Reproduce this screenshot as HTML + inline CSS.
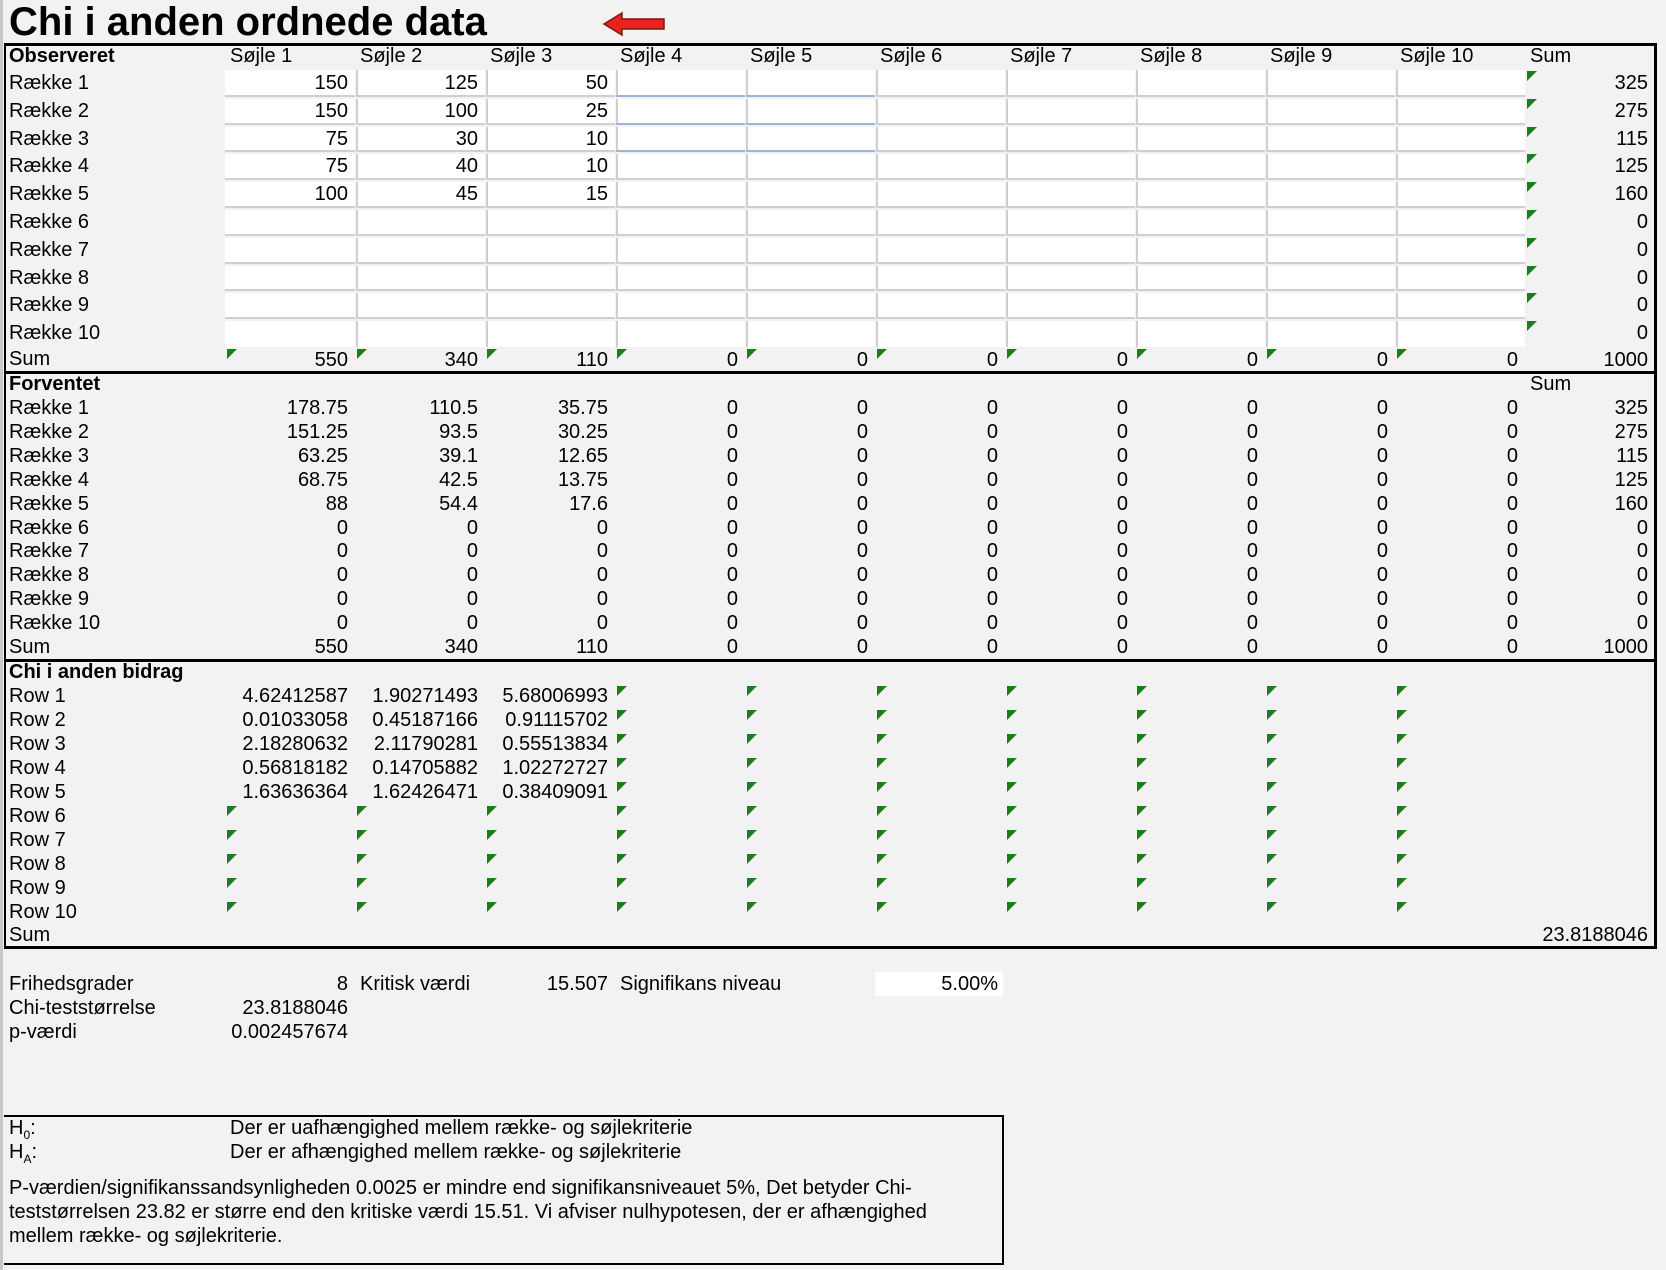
<!DOCTYPE html>
<html><head><meta charset="utf-8">
<style>
body{margin:0;width:1666px;height:1270px;background:#f2f2f2;position:relative;overflow:hidden;font-family:"Liberation Sans",Arial,sans-serif;color:#000}
.t{position:absolute;font-size:20px;line-height:24px;height:24px;white-space:nowrap}
.b{font-weight:bold}
.r{text-align:right}
.cell{position:absolute;background:#fff}
.tri{position:absolute;width:0;height:0;border-top:10px solid #1a7f1a;border-right:10px solid transparent}
.hl{position:absolute;height:3px;background:#000}
</style></head><body>
<div style="position:absolute;left:0;top:0;width:3px;height:1270px;background:#c8c8c8"></div>
<div class="t b" style="left:9px;top:0px;font-size:40px;line-height:44px;height:44px">Chi i anden ordnede data</div>
<svg style="position:absolute;left:600px;top:10px" width="70" height="28" viewBox="0 0 70 28">
<path d="M4 14 L22 3 L22 9 L64 9 L64 19 L22 19 L22 25 Z" fill="#e8231c" stroke="#7a1a12" stroke-width="1.5"/>
</svg>
<div id="root"></div>
<script>
const cols=['Søjle 1','Søjle 2','Søjle 3','Søjle 4','Søjle 5','Søjle 6','Søjle 7','Søjle 8','Søjle 9','Søjle 10'];
const obsRow1=[150,125,50];
const obsRow2=[150,100,25];
const obsRow3=[75,30,10];
const obsRow4=[75,40,10];
const obsRow5=[100,45,15];
const rowSums=[325,275,115,125,160,0,0,0,0,0];
const colSums=[550,340,110,0,0,0,0,0,0,0];
const total=1000;
const expRow1=['178.75','110.5','35.75'];
const expRow2=['151.25','93.5','30.25'];
const expRow3=['63.25','39.1','12.65'];
const expRow4=['68.75','42.5','13.75'];
const expRow5=['88','54.4','17.6'];
const chiRow1=['4.62412587','1.90271493','5.68006993'];
const chiRow2=['0.01033058','0.45187166','0.91115702'];
const chiRow3=['2.18280632','2.11790281','0.55513834'];
const chiRow4=['0.56818182','0.14705882','1.02272727'];
const chiRow5=['1.63636364','1.62426471','0.38409091'];
const chiSum='23.8188046';
const obs=[obsRow1,obsRow2,obsRow3,obsRow4,obsRow5];
const exp=[expRow1,expRow2,expRow3,expRow4,expRow5];
const chi=[chiRow1,chiRow2,chiRow3,chiRow4,chiRow5];

const root=document.body;
const C0=225,CW=130;
function colX(i){return C0+i*CW;}
function txt(x,cy,s,opts,name){
  const d=document.createElement('div');
  d.className='t'+(opts&&opts.b?' b':'')+(opts&&opts.r?' r':'');
  if(opts&&opts.r){d.style.left=(x-200)+'px';d.style.width='200px';}else d.style.left=x+'px';
  d.style.top=(cy-12)+'px';
  d.textContent=s;
  
  
  root.appendChild(d);return d;
}
function tri(x,y){
  const d=document.createElement('div');d.className='tri';d.style.left=x+'px';d.style.top=y+'px';
  
  
  root.appendChild(d);
}
function hline(y,x1,x2,name){
  const d=document.createElement('div');d.className='hl';d.style.left=x1+'px';d.style.top=y+'px';d.style.width=(x2-x1)+'px';
  
  
  root.appendChild(d);
}
hline(43,4,1657,'top-border');hline(371,4,1657,'section-divider');hline(659,4,1657,'section-divider');hline(946,4,1657,'section-divider');
const rb=document.createElement('div');rb.style.cssText='position:absolute;left:1654px;top:43px;width:3px;height:906px;background:#000';


root.appendChild(rb);
const lb=document.createElement('div');lb.style.cssText='position:absolute;left:4px;top:43px;width:2px;height:906px;background:#000';


root.appendChild(lb);

const oTop=70,oP=27.8;
txt(9,56,'Observeret',{b:1},'observed-header');
cols.forEach((c,i)=>txt(colX(i)+5,56,c,{},'column-header'));
txt(colX(10)+5,56,'Sum',{},'sum-header');
for(let r=0;r<10;r++){
  for(let c=0;c<10;c++){
    const d=document.createElement('div');d.className='cell';
    d.style.left=(colX(c)+(c?1:0))+'px';d.style.top=(oTop+r*oP+(r?1:0))+'px';
    d.style.width=(CW-(c?1:0))+'px';d.style.height=(oP-(r?1:0)-1)+'px';
    d.style.boxShadow='inset 0 -2px 0 '+((r<3&&(c==3||c==4))?'#9db5d6':'#cfcfcf')+(c>0?', inset 2px 0 0 #cfcfcf':'');
    if(r==9)d.style.boxShadow=c>0?'inset 2px 0 0 #cfcfcf':'none';
    
    
    root.appendChild(d);
  }
}
for(let r=0;r<10;r++){
  const cy=oTop+r*oP+13;
  txt(9,cy,'Række '+(r+1),{},'row-label');
  if(r<5) obs[r].forEach((v,c)=>txt(colX(c+1)-7,cy,String(v),{r:1},'observed-value'));
  tri(colX(10)+2,oTop+r*oP+1);
  txt(colX(11)-7,cy,String(rowSums[r]),{r:1},'row-sum');
}
txt(9,359,'Sum',{},'sum-label');
colSums.forEach((v,c)=>{tri(colX(c)+2,349);txt(colX(c+1)-7,360,String(v),{r:1},'column-sum');});
txt(colX(11)-7,360,String(total),{r:1},'grand-total');

txt(9,384,'Forventet',{b:1},'expected-header');
txt(colX(10)+5,384,'Sum',{},'sum-header');
const eTop=408,eP=23.9;
for(let r=0;r<10;r++){
  const cy=eTop+r*eP;
  txt(9,cy,'Række '+(r+1),{},'row-label');
  for(let c=0;c<10;c++){
    const v=(r<5&&c<3)?exp[r][c]:'0';
    txt(colX(c+1)-7,cy,v,{r:1},'expected-value');
  }
  txt(colX(11)-7,cy,String(rowSums[r]),{r:1},'row-sum');
}
txt(9,eTop+10*eP,'Sum',{},'sum-label');
colSums.forEach((v,c)=>txt(colX(c+1)-7,eTop+10*eP,String(v),{r:1},'column-sum'));
txt(colX(11)-7,eTop+10*eP,String(total),{r:1},'grand-total');

txt(9,672,'Chi i anden bidrag',{b:1},'contribution-header');
const cTop=696,cP=24;
for(let r=0;r<10;r++){
  const cy=cTop+r*cP;
  txt(9,cy,'Row '+(r+1),{},'row-label');
  for(let c=0;c<10;c++){
    if(r<5&&c<3) txt(colX(c+1)-7,cy,chi[r][c],{r:1},'contribution-value');
    else tri(colX(c)+2,cy-10);
  }
}
txt(9,cTop+10*cP-1,'Sum',{},'sum-label');
txt(colX(11)-7,cTop+10*cP-1,chiSum,{r:1},'chi-sum');

txt(9,984,'Frihedsgrader',{},'df-label');
txt(colX(1)-7,984,'8',{r:1},'df-value');
txt(colX(1)+5,984,'Kritisk værdi',{},'critical-label');
txt(colX(3)-7,984,'15.507',{r:1},'critical-value');
txt(colX(3)+5,984,'Signifikans niveau',{},'significance-label');
const sb=document.createElement('div');sb.className='cell';sb.style.cssText+='left:875px;top:972px;width:128px;height:24px';


root.appendChild(sb);
txt(colX(6)-7,984,'5.00%',{r:1},'significance-value');
txt(9,1008,'Chi-teststørrelse',{},'chi-stat-label');
txt(colX(1)-7,1008,'23.8188046',{r:1},'chi-stat-value');
txt(9,1032,'p-værdi',{},'p-value-label');
txt(colX(1)-7,1032,'0.002457674',{r:1},'p-value');
</script>
<div style="position:absolute;left:4px;top:1115px;width:998px;height:146px;border:2px solid #000;border-left:none"></div>
<div class="t" style="left:9px;top:1116px">H<sub style="font-size:12px">0</sub>:</div>
<div class="t" style="left:230px;top:1116px">Der er uafhængighed mellem række- og søjlekriterie</div>
<div class="t" style="left:9px;top:1140px">H<sub style="font-size:12px">A</sub>:</div>
<div class="t" style="left:230px;top:1140px">Der er afhængighed mellem række- og søjlekriterie</div>
<div style="position:absolute;left:9px;top:1176px;width:940px;font-size:20px;line-height:24px">P-værdien/signifikanssandsynligheden 0.0025 er mindre end signifikansniveauet 5%, Det betyder Chi-teststørrelsen 23.82 er større end den kritiske værdi 15.51. Vi afviser nulhypotesen, der er afhængighed mellem række- og søjlekriterie.</div>
</body></html>
